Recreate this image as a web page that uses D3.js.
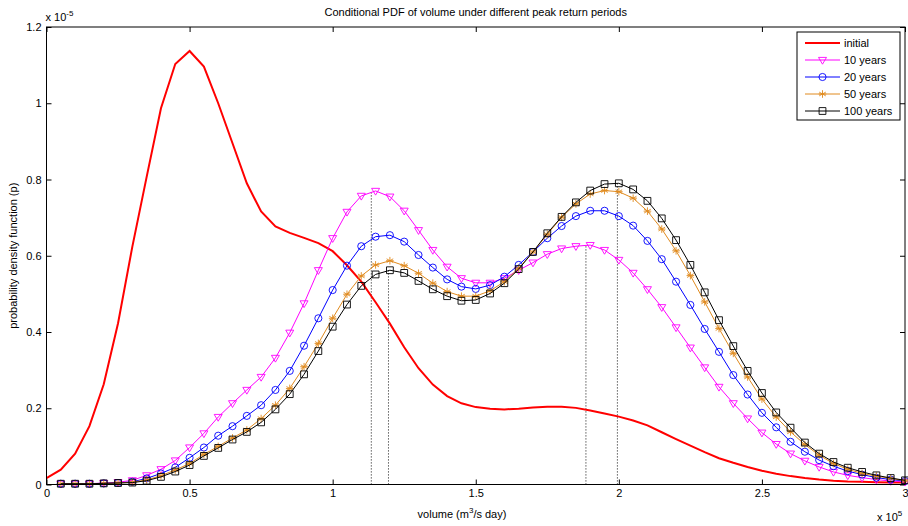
<!DOCTYPE html>
<html>
<head>
<meta charset="utf-8">
<script src="https://cdn.jsdelivr.net/npm/d3@7"></script>
<style>
  body { margin: 0; background: #fff; }
  text { font-family: "Liberation Sans", Arial, Helvetica, sans-serif; }
</style>
</head>
<body>
<script>
// volume grid (thousands of m3/s day)
const volumeK = [0, 5, 10, 15, 20, 25, 30, 35, 40, 45, 50, 55, 60, 65, 70, 75, 80, 85, 90, 95,
  100, 105, 110, 115, 120, 125, 130, 135, 140, 145, 150, 155, 160, 165, 170, 175, 180, 185, 190, 195,
  200, 205, 210, 215, 220, 225, 230, 235, 240, 245, 250, 255, 260, 265, 270, 275, 280, 285, 290, 295, 300];

// pdf values in units of 1e-5
const initial = [0.017, 0.039, 0.081, 0.153, 0.263, 0.423, 0.624, 0.807, 0.987, 1.103, 1.137, 1.096, 1.0, 0.895, 0.79, 0.716, 0.677, 0.66, 0.647, 0.633,
  0.612, 0.575, 0.532, 0.478, 0.422, 0.36, 0.305, 0.262, 0.232, 0.213, 0.203, 0.199, 0.197, 0.199, 0.202, 0.204, 0.204, 0.201, 0.194, 0.186,
  0.178, 0.168, 0.155, 0.137, 0.119, 0.102, 0.085, 0.069, 0.057, 0.046, 0.036, 0.028, 0.022, 0.017, 0.013, 0.010, 0.008, 0.007, 0.006, 0.005, 0.005];

// the return-period curves start at 5000
const years10 = [0.002, 0.002, 0.002, 0.004, 0.006, 0.011, 0.024, 0.040, 0.063, 0.097, 0.134, 0.177, 0.213, 0.248, 0.282, 0.332, 0.398, 0.475, 0.562,
  0.646, 0.715, 0.757, 0.770, 0.755, 0.718, 0.667, 0.615, 0.571, 0.541, 0.529, 0.529, 0.541, 0.562, 0.582, 0.604, 0.619, 0.625, 0.628, 0.615,
  0.589, 0.555, 0.512, 0.465, 0.412, 0.359, 0.307, 0.256, 0.213, 0.173, 0.136, 0.106, 0.081, 0.062, 0.046, 0.033, 0.024, 0.018, 0.013, 0.009, 0.007];
const years20 = [0.002, 0.002, 0.002, 0.003, 0.004, 0.007, 0.016, 0.029, 0.045, 0.070, 0.097, 0.128, 0.153, 0.180, 0.208, 0.248, 0.298, 0.364, 0.436,
  0.510, 0.574, 0.625, 0.650, 0.654, 0.637, 0.602, 0.569, 0.538, 0.519, 0.513, 0.523, 0.545, 0.576, 0.610, 0.646, 0.678, 0.704, 0.718, 0.718,
  0.704, 0.679, 0.639, 0.591, 0.532, 0.471, 0.408, 0.348, 0.287, 0.236, 0.188, 0.150, 0.112, 0.086, 0.064, 0.048, 0.035, 0.026, 0.018, 0.013, 0.009];
const years50 = [0.002, 0.002, 0.002, 0.003, 0.004, 0.006, 0.012, 0.023, 0.038, 0.055, 0.079, 0.100, 0.122, 0.143, 0.173, 0.208, 0.252, 0.309, 0.370,
  0.436, 0.499, 0.547, 0.576, 0.587, 0.574, 0.554, 0.528, 0.506, 0.494, 0.494, 0.508, 0.532, 0.567, 0.610, 0.656, 0.701, 0.736, 0.762, 0.771,
  0.768, 0.751, 0.717, 0.670, 0.613, 0.548, 0.479, 0.409, 0.344, 0.282, 0.224, 0.177, 0.138, 0.105, 0.077, 0.055, 0.040, 0.029, 0.022, 0.016, 0.010];
const years100 = [0.002, 0.002, 0.002, 0.003, 0.004, 0.005, 0.010, 0.020, 0.034, 0.051, 0.075, 0.096, 0.118, 0.138, 0.163, 0.197, 0.237, 0.289, 0.350,
  0.414, 0.472, 0.521, 0.551, 0.562, 0.555, 0.534, 0.512, 0.494, 0.482, 0.484, 0.501, 0.528, 0.565, 0.610, 0.659, 0.702, 0.740, 0.771, 0.788,
  0.790, 0.774, 0.744, 0.698, 0.641, 0.576, 0.504, 0.431, 0.363, 0.298, 0.240, 0.189, 0.149, 0.110, 0.081, 0.059, 0.044, 0.033, 0.024, 0.017, 0.011];

// dotted peak markers: [volume, pdf]
const peakVolumes = [113500, 119500, 188500, 199500];
const peakValues = [0.767, 0.563, 0.628, 0.790];

const xTicks = [0, 0.5, 1, 1.5, 2, 2.5, 3];
const yTicks = [0, 0.2, 0.4, 0.6, 0.8, 1, 1.2];
const seriesNames = ['initial', '10 years', '20 years', '50 years', '100 years'];
const seriesColors = ['#ff0000', '#ff00ff', '#0000ff', '#e08a1e', '#000000'];
const seriesMarkers = ['none', 'triangleDown', 'circle', 'star', 'square'];

const svgWidth = 908, svgHeight = 526;
const margin = { left: 46.5, right: 3, top: 27, bottom: 41.5 };

const svg = d3.select('body').append('svg')
  .attr('width', svgWidth).attr('height', svgHeight);

const x = d3.scaleLinear().domain([0, 3e5]).range([margin.left, svgWidth - margin.right]);
const y = d3.scaleLinear().domain([0, 1.2]).range([svgHeight - margin.bottom, margin.top]);

// marker shapes
function markerPath(kind) {
  if (kind === 'triangleDown') return 'M-4,-2.6L4,-2.6L0,4.2Z';
  if (kind === 'circle') return d3.symbol(d3.symbolCircle, 40)();
  if (kind === 'square') return 'M-3.4,-3.4H3.4V3.4H-3.4Z';
  if (kind === 'star') return 'M0,-3.8V3.8M-3.3,-1.9L3.3,1.9M-3.3,1.9L3.3,-1.9M-3.8,0H3.8';
  return '';
}

// axes (ticks point inward, MATLAB style)
const fmt = d => d3.format('~g')(d);
svg.append('g')
  .attr('transform', `translate(0,${y(0)})`)
  .call(d3.axisBottom(x).tickValues(xTicks.map(d => d * 1e5)).tickFormat(d => fmt(d / 1e5))
    .tickSizeInner(-5).tickSizeOuter(0).tickPadding(5))
  .call(g => g.select('.domain').remove())
  .call(g => g.selectAll('text').attr('font-size', 11).attr('fill', '#000'))
  .call(g => g.selectAll('line').attr('stroke', '#000'));

svg.append('g')
  .attr('transform', `translate(0,${y(1.2)})`)
  .call(d3.axisTop(x).tickValues(xTicks.map(d => d * 1e5)).tickFormat('')
    .tickSizeInner(-5).tickSizeOuter(0))
  .call(g => g.select('.domain').remove())
  .call(g => g.selectAll('line').attr('stroke', '#000'));

svg.append('g')
  .attr('transform', `translate(${x(0)},0)`)
  .call(d3.axisLeft(y).tickValues(yTicks).tickFormat(fmt)
    .tickSizeInner(-5).tickSizeOuter(0).tickPadding(5))
  .call(g => g.select('.domain').remove())
  .call(g => g.selectAll('text').attr('font-size', 11).attr('fill', '#000'))
  .call(g => g.selectAll('line').attr('stroke', '#000'));

svg.append('g')
  .attr('transform', `translate(${x(3e5)},0)`)
  .call(d3.axisRight(y).tickValues(yTicks).tickFormat('')
    .tickSizeInner(-5).tickSizeOuter(0))
  .call(g => g.select('.domain').remove())
  .call(g => g.selectAll('line').attr('stroke', '#000'));

// dotted peak lines
svg.append('g').selectAll('line')
  .data(peakVolumes)
  .enter().append('line')
  .attr('x1', d => x(d)).attr('x2', d => x(d))
  .attr('y1', y(0)).attr('y2', (d, i) => y(peakValues[i]))
  .attr('stroke', '#000').attr('stroke-width', 0.8)
  .attr('stroke-dasharray', '1.2,1.8');

// curves
const line = d3.line().x(d => x(d[0])).y(d => y(d[1]));
const seriesData = [
  volumeK.map((v, i) => [v * 1000, initial[i]]),
  volumeK.slice(1).map((v, i) => [v * 1000, years10[i]]),
  volumeK.slice(1).map((v, i) => [v * 1000, years20[i]]),
  volumeK.slice(1).map((v, i) => [v * 1000, years50[i]]),
  volumeK.slice(1).map((v, i) => [v * 1000, years100[i]])
];

seriesData.forEach((pts, s) => {
  const g = svg.append('g');
  g.append('path')
    .attr('d', line(pts))
    .attr('fill', 'none')
    .attr('stroke', seriesColors[s])
    .attr('stroke-width', s === 0 ? 2 : 1);
  if (seriesMarkers[s] !== 'none') {
    g.selectAll('path.marker')
      .data(pts)
      .enter().append('path')
      .attr('class', 'marker')
      .attr('transform', d => `translate(${x(d[0])},${y(d[1])})`)
      .attr('d', markerPath(seriesMarkers[s]))
      .attr('fill', 'none')
      .attr('stroke', seriesColors[s])
      .attr('stroke-width', 0.9);
  }
});

// frame
svg.append('rect')
  .attr('x', x(0)).attr('y', y(1.2))
  .attr('width', x(3e5) - x(0)).attr('height', y(0) - y(1.2))
  .attr('fill', 'none').attr('stroke', '#000').attr('stroke-width', 1);

// exponent labels
const yExp = svg.append('text').attr('x', x(0) - 1).attr('y', 21).attr('font-size', 11);
yExp.append('tspan').text('x 10');
yExp.append('tspan').attr('dy', -5).attr('font-size', 8).text('-5');

const xExp = svg.append('text').attr('x', 877).attr('y', 521).attr('font-size', 11);
xExp.append('tspan').text('x 10');
xExp.append('tspan').attr('dy', -5).attr('font-size', 8).text('5');

// title and labels
svg.append('text')
  .attr('x', (x(0) + x(3e5)) / 2).attr('y', 16)
  .attr('text-anchor', 'middle').attr('font-size', 11)
  .text('Conditional PDF of volume under different peak return periods');

const xLabel = svg.append('text')
  .attr('x', 462).attr('y', 518)
  .attr('text-anchor', 'middle').attr('font-size', 11);
xLabel.append('tspan').text('volume (m');
xLabel.append('tspan').attr('dy', -5).attr('font-size', 8).text('3');
xLabel.append('tspan').attr('dy', 5).text('/s day)');

svg.append('text')
  .attr('transform', `translate(17,${(y(0) + y(1.2)) / 2}) rotate(-90)`)
  .attr('text-anchor', 'middle').attr('font-size', 11)
  .text('probability density function (p)');

// legend
const legend = svg.append('g').attr('transform', 'translate(797,32)');
legend.append('rect')
  .attr('width', 103).attr('height', 88)
  .attr('fill', '#fff').attr('stroke', '#000').attr('stroke-width', 1);

const rows = legend.selectAll('g.row')
  .data(seriesNames)
  .enter().append('g')
  .attr('class', 'row')
  .attr('transform', (d, i) => `translate(0,${11 + i * 17})`);
rows.append('line')
  .attr('x1', 8).attr('x2', 43)
  .attr('stroke', (d, i) => seriesColors[i])
  .attr('stroke-width', (d, i) => i === 0 ? 2 : 1);
rows.append('path')
  .attr('transform', 'translate(25.5,0)')
  .attr('d', (d, i) => markerPath(seriesMarkers[i]))
  .attr('fill', 'none')
  .attr('stroke', (d, i) => seriesColors[i])
  .attr('stroke-width', 0.9);
rows.append('text')
  .attr('x', 47).attr('y', 4)
  .attr('font-size', 11)
  .text(d => d);
</script>
</body>
</html>
